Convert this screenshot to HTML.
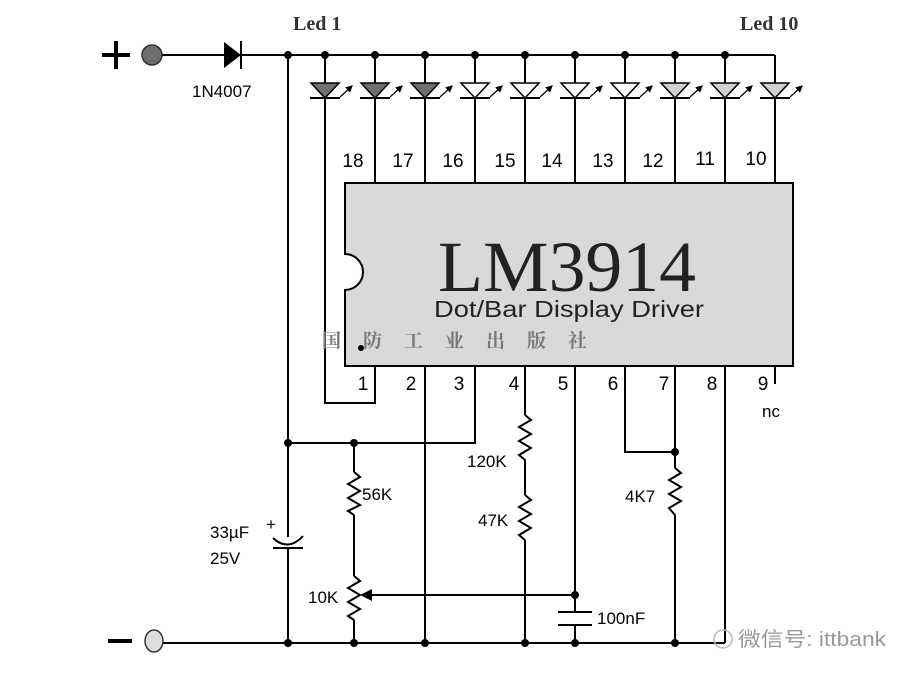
<!DOCTYPE html>
<html><head><meta charset="utf-8"><style>html,body{margin:0;padding:0;background:#fff}svg{display:block}</style></head>
<body>
<svg width="918" height="678" viewBox="0 0 918 678" xmlns="http://www.w3.org/2000/svg" font-family="Liberation Sans, sans-serif">
<defs>
<marker id="ah" markerWidth="6" markerHeight="6" refX="5" refY="3" orient="auto"><path d="M0,0 L6,3 L0,6 z" fill="#000"/></marker>
</defs>
<g stroke="#000" stroke-width="2" fill="none">
<line x1="160" y1="55" x2="775" y2="55"/>
<line x1="775" y1="55" x2="775" y2="83"/>
<line x1="160" y1="643" x2="725" y2="643"/>
<line x1="102" y1="55" x2="130" y2="55" stroke-width="4"/>
<line x1="116" y1="41" x2="116" y2="69" stroke-width="4"/>
<line x1="108" y1="641" x2="132" y2="641" stroke-width="4"/>
<line x1="288" y1="55" x2="288" y2="537"/>
<line x1="288" y1="548" x2="288" y2="643"/>
<polyline points="325,55 325,403 375,403 375,366"/>
<line x1="375" y1="55" x2="375" y2="183"/>
<line x1="425" y1="55" x2="425" y2="183"/>
<line x1="475" y1="55" x2="475" y2="183"/>
<line x1="525" y1="55" x2="525" y2="183"/>
<line x1="575" y1="55" x2="575" y2="183"/>
<line x1="625" y1="55" x2="625" y2="183"/>
<line x1="675" y1="55" x2="675" y2="183"/>
<line x1="725" y1="55" x2="725" y2="183"/>
<line x1="775" y1="83" x2="775" y2="183"/>
<line x1="425" y1="366" x2="425" y2="643"/>
<polyline points="475,366 475,443 288,443"/>
<line x1="525" y1="366" x2="525" y2="415"/>
<line x1="525" y1="540" x2="525" y2="643"/>
<line x1="575" y1="366" x2="575" y2="612"/>
<line x1="575" y1="625" x2="575" y2="643"/>
<polyline points="625,366 625,452 675,452"/>
<line x1="675" y1="366" x2="675" y2="468"/>
<line x1="675" y1="515" x2="675" y2="643"/>
<polyline points="725,366 725,643"/>
<line x1="775" y1="366" x2="775" y2="384"/>
<line x1="354" y1="443" x2="354" y2="472"/>
<line x1="354" y1="515" x2="354" y2="576"/>
<line x1="354" y1="620" x2="354" y2="643"/>
<polyline points="354,472 360,477 348,484 360,491 348,498 360,505 348,511 354,515"/>
<polyline points="354,576 360,581 348,588 360,595 348,602 360,609 348,616 354,620"/>
<polyline points="525,415 531,420 519,427 531,434 519,441 531,448 519,455 525,460 525,495"/>
<polyline points="525,495 531,500 519,507 531,514 519,521 531,528 519,535 525,540"/>
<polyline points="675,468 681,473 669,480 681,487 669,494 681,501 669,508 675,515"/>
<line x1="370" y1="595" x2="575" y2="595"/>
<line x1="558" y1="612" x2="592" y2="612"/>
<line x1="558" y1="625" x2="592" y2="625"/>
<path d="M273,538 Q288,552 303,536"/>
<line x1="273" y1="548" x2="303" y2="548"/>
</g>
<polygon points="360,595 372,589 372,601" fill="#000"/>
<text x="266" y="530" font-size="17">+</text>
<polygon points="224,42 241,55 224,68" fill="#000"/>
<line x1="241" y1="41" x2="241" y2="69" stroke="#000" stroke-width="2"/>
<circle cx="152" cy="55" r="10" fill="#6e6e6e" stroke="#333" stroke-width="1.5"/>
<ellipse cx="154" cy="641" rx="9" ry="11" fill="#ddd" stroke="#333" stroke-width="1.5"/>
<g stroke="#000" stroke-width="1.5">
<g fill="#707070">
<polygon points="311,83 339,83 325,98"/><polygon points="361,83 389,83 375,98"/><polygon points="411,83 439,83 425,98"/>
</g>
<g fill="#fff">
<polygon points="461,83 489,83 475,98"/><polygon points="511,83 539,83 525,98"/><polygon points="561,83 589,83 575,98"/><polygon points="611,83 639,83 625,98"/>
</g>
<g fill="#d0d0d0">
<polygon points="661,83 689,83 675,98"/><polygon points="711,83 739,83 725,98"/><polygon points="761,83 789,83 775,98"/>
</g>
<g stroke-width="2">
<line x1="310" y1="98" x2="340" y2="98"/><line x1="360" y1="98" x2="390" y2="98"/><line x1="410" y1="98" x2="440" y2="98"/><line x1="460" y1="98" x2="490" y2="98"/><line x1="510" y1="98" x2="540" y2="98"/><line x1="560" y1="98" x2="590" y2="98"/><line x1="610" y1="98" x2="640" y2="98"/><line x1="660" y1="98" x2="690" y2="98"/><line x1="710" y1="98" x2="740" y2="98"/><line x1="760" y1="98" x2="790" y2="98"/>
</g>
<g stroke-width="1.2" marker-end="url(#ah)">
<line x1="340" y1="97" x2="352" y2="86"/><line x1="390" y1="97" x2="402" y2="86"/><line x1="440" y1="97" x2="452" y2="86"/><line x1="490" y1="97" x2="502" y2="86"/><line x1="540" y1="97" x2="552" y2="86"/><line x1="590" y1="97" x2="602" y2="86"/><line x1="640" y1="97" x2="652" y2="86"/><line x1="690" y1="97" x2="702" y2="86"/><line x1="740" y1="97" x2="752" y2="86"/><line x1="790" y1="97" x2="802" y2="86"/>
</g>
</g>
<g fill="#000">
<circle cx="288" cy="55" r="4"/><circle cx="325" cy="55" r="4"/><circle cx="375" cy="55" r="4"/><circle cx="425" cy="55" r="4"/><circle cx="475" cy="55" r="4"/><circle cx="525" cy="55" r="4"/><circle cx="575" cy="55" r="4"/><circle cx="625" cy="55" r="4"/><circle cx="675" cy="55" r="4"/><circle cx="725" cy="55" r="4"/>
<circle cx="288" cy="443" r="4"/><circle cx="354" cy="443" r="4"/><circle cx="675" cy="452" r="4"/><circle cx="575" cy="595" r="4"/>
<circle cx="288" cy="643" r="4"/><circle cx="354" cy="643" r="4"/><circle cx="425" cy="643" r="4"/><circle cx="525" cy="643" r="4"/><circle cx="575" cy="643" r="4"/><circle cx="675" cy="643" r="4"/>
</g>
<path d="M345,183 H793 V366 H345 V290 A18,18 0 0 0 345,254 Z" fill="#d9d9d9" stroke="#000" stroke-width="2"/>
<circle cx="361" cy="348" r="3" fill="#000"/>
<text x="567" y="291" font-family="Liberation Serif, serif" font-size="72" text-anchor="middle" fill="#222" textLength="258" lengthAdjust="spacingAndGlyphs">LM3914</text>
<text x="569" y="317" font-size="23" text-anchor="middle" fill="#222" textLength="270" lengthAdjust="spacingAndGlyphs">Dot/Bar Display Driver</text>
<text x="322" y="347" font-family="Liberation Serif, 'Noto Serif CJK SC', serif" font-size="19" font-weight="bold" fill="#777" letter-spacing="22">国防工业出版社</text>
<g font-size="19" fill="#000" text-anchor="middle">
<text x="353" y="167">18</text><text x="403" y="167">17</text><text x="453" y="167">16</text><text x="505" y="167">15</text><text x="552" y="167">14</text><text x="603" y="167">13</text><text x="653" y="167">12</text><text x="705" y="165">11</text><text x="756" y="165">10</text>
<text x="363" y="390">1</text><text x="411" y="390">2</text><text x="459" y="390">3</text><text x="514" y="390">4</text><text x="563" y="390">5</text><text x="613" y="390">6</text><text x="664" y="390">7</text><text x="712" y="390">8</text><text x="763" y="390">9</text>
</g>
<g font-size="17" fill="#000">
<text x="762" y="417">nc</text>
<text x="192" y="97">1N4007</text>
<text x="467" y="467">120K</text>
<text x="362" y="500">56K</text>
<text x="478" y="526">47K</text>
<text x="625" y="502">4K7</text>
<text x="210" y="538">33µF</text>
<text x="210" y="564">25V</text>
<text x="308" y="603">10K</text>
<text x="597" y="624">100nF</text>
</g>
<g font-family="Liberation Serif, serif" font-weight="bold" font-size="20" fill="#333">
<text x="293" y="30">Led 1</text>
<text x="740" y="30">Led 10</text>
</g>
<circle cx="723" cy="639" r="9" fill="none" stroke="#bbb" stroke-width="1.5"/>
<text x="738" y="646" font-family="Liberation Sans, 'Noto Sans CJK SC', sans-serif" font-size="20" fill="#999" textLength="148" lengthAdjust="spacingAndGlyphs">微信号: ittbank</text>
</svg>
</body></html>
